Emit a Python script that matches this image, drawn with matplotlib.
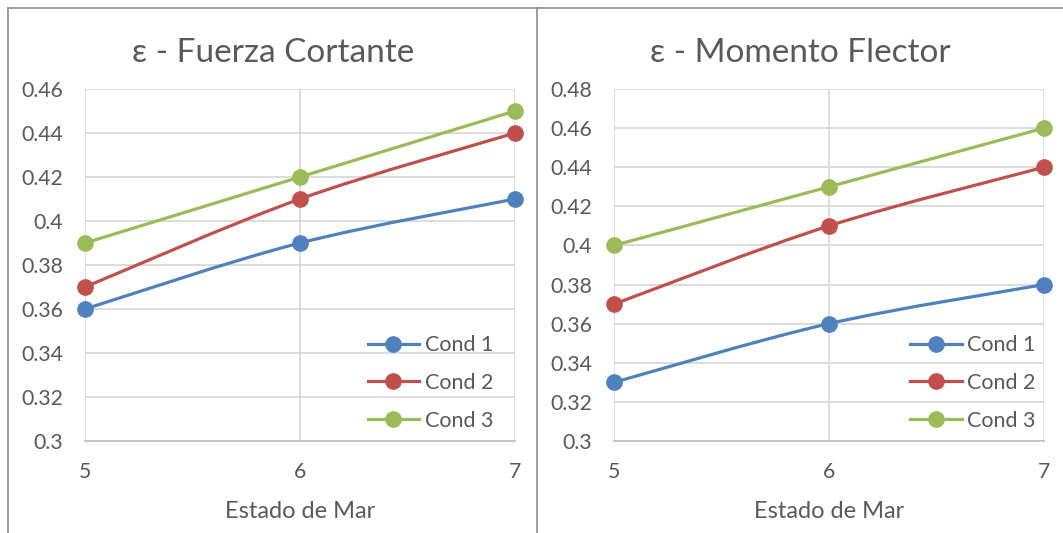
import matplotlib
matplotlib.use("Agg")
import matplotlib.pyplot as plt
from matplotlib.path import Path
from matplotlib.patches import PathPatch
from matplotlib.lines import Line2D
import numpy as np

plt.rcParams['font.family'] = ['Lato', 'DejaVu Sans']

estado = [5, 6, 7]
series_names = ["Cond 1", "Cond 2", "Cond 3"]
cortante_c1 = [0.36, 0.39, 0.41]
cortante_c2 = [0.37, 0.41, 0.44]
cortante_c3 = [0.39, 0.42, 0.45]
flector_c1 = [0.33, 0.36, 0.38]
flector_c2 = [0.37, 0.41, 0.44]
flector_c3 = [0.40, 0.43, 0.46]
cortante_ticks = [0.3, 0.32, 0.34, 0.36, 0.38, 0.4, 0.42, 0.44, 0.46]
flector_ticks = [0.3, 0.32, 0.34, 0.36, 0.38, 0.4, 0.42, 0.44, 0.46, 0.48]
tick_labels_c = ["0.3", "0.32", "0.34", "0.36", "0.38", "0.4", "0.42", "0.44", "0.46"]
tick_labels_f = ["0.3", "0.32", "0.34", "0.36", "0.38", "0.4", "0.42", "0.44", "0.46", "0.48"]
titles = ["ε - Fuerza Cortante", "ε - Momento Flector"]
xlabel = "Estado de Mar"

colors = ["#4f81bd", "#c0504d", "#9bbb59"]
text_color = "#595959"
grid_color = "#d9d9d9"

W, H = 1063, 533
fig = plt.figure(figsize=(W / 100, H / 100), dpi=100)
fig.patch.set_facecolor("white")

def px_axes(x0, y0, x1, y1):
    return fig.add_axes([x0 / W, 1 - y1 / H, (x1 - x0) / W, (y1 - y0) / H])

def smooth_path(xs, ys):
    pts = np.column_stack([xs, ys]).astype(float)
    n = len(pts)
    verts = [pts[0]]
    codes = [Path.MOVETO]
    for i in range(n - 1):
        p0 = pts[i - 1] if i > 0 else pts[i]
        p1 = pts[i]
        p2 = pts[i + 1]
        p3 = pts[i + 2] if i + 2 < n else pts[i + 1]
        c1 = p1 + (p2 - p0) / 6.0
        c2 = p2 - (p3 - p1) / 6.0
        verts += [c1, c2, p2]
        codes += [Path.CURVE4] * 3
    return Path(verts, codes)

# panel borders
border = "#8c8c8c"
fig.add_artist(Line2D([8 / W, 8 / W], [0, 1 - 8 / H], color=border, lw=1.2))
fig.add_artist(Line2D([537 / W, 537 / W], [0, 1 - 8 / H], color=border, lw=1.2))
fig.add_artist(Line2D([8 / W, 1], [1 - 8 / H, 1 - 8 / H], color=border, lw=1.2))

panels = [
    (px_axes(85, 89, 515, 441), [cortante_c1, cortante_c2, cortante_c3], cortante_ticks, tick_labels_c, 0.46, 273, 0.969),
    (px_axes(614, 89, 1044, 441), [flector_c1, flector_c2, flector_c3], flector_ticks, tick_labels_f, 0.48, 800, 1.0),
]

fs_tick = 15.3
fs_leg = 15.5
for idx, (ax, data, ticks, tlabels, ymax, tx, lx) in enumerate(panels):
    ax.set_xlim(5, 7)
    ax.set_ylim(0.3, ymax)
    ax.set_xticks(estado)
    ax.set_xticklabels([str(e) for e in estado])
    ax.set_yticks(ticks)
    ax.set_yticklabels(tlabels)
    ax.grid(True, color=grid_color, lw=1.3)
    ax.set_axisbelow(True)
    for s in ["top", "right", "left"]:
        ax.spines[s].set_visible(False)
    ax.spines["bottom"].set_color("#bfbfbf")
    ax.spines["bottom"].set_linewidth(1.3)
    ax.tick_params(length=0, labelsize=fs_tick, colors=text_color)
    ax.tick_params(axis="x", pad=15)
    ax.tick_params(axis="y", pad=16)
    handles = []
    for vals, c, name in zip(data, colors, series_names):
        patch = PathPatch(smooth_path(estado, vals), facecolor="none", edgecolor=c,
                          lw=2.3, clip_on=False, zorder=3, capstyle="round")
        ax.add_patch(patch)
        ax.plot(estado, vals, linestyle="none", marker="o", markersize=11,
                color=c, clip_on=False, zorder=4)
        handles.append(Line2D([], [], color=c, lw=2.3, marker="o", markersize=11))
    ax.legend(handles, series_names, loc="lower right", frameon=False,
              fontsize=fs_leg, labelcolor=text_color, handlelength=2.4,
              handletextpad=0.25, labelspacing=0.82, borderaxespad=0.0,
              bbox_to_anchor=(lx, 0.005))
    ax.set_xlabel(xlabel, fontsize=17, color=text_color, labelpad=14)
    fig.text(tx / W, 1 - 53 / H, titles[idx], ha="center", va="center",
             fontsize=24, color=text_color)

fig.savefig("out.png", dpi=100, facecolor="white")
